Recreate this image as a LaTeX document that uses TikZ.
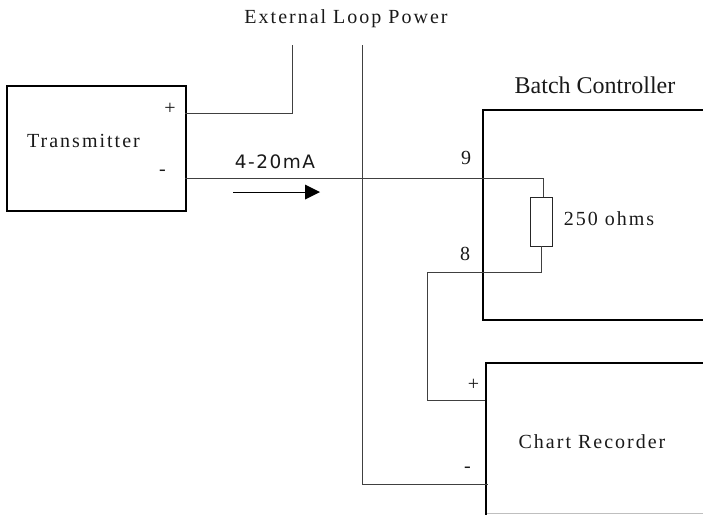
\documentclass[tikz,border=0pt]{standalone}
\usepackage{fontspec}
\setmainfont{Liberation Serif}
\newfontfamily\spaced[LetterSpace=10]{Liberation Serif}
\newfontfamily\sansspaced[LetterSpace=8]{DejaVu Sans}
\usetikzlibrary{calc}
\tikzset{
  block/.style={draw=black,line width=2pt,rectangle,inner sep=0pt,anchor=north west},
  wire/.style={draw=black!75,line width=1pt},
  resbox/.style={draw=black!85,fill=white,line width=1pt,rectangle,inner sep=0pt,minimum width=22pt,minimum height=49pt},
  lab/.style={inner sep=0pt,font=\spaced\fontsize{20}{22}\selectfont,text=black!90},
  plain/.style={inner sep=0pt,font=\fontsize{20}{22}\selectfont,text=black!90},
  flow/.style={line width=1pt,draw=black}
}
\begin{document}
\begin{tikzpicture}[x=1pt,y=-1pt]
\useasboundingbox (0,0) rectangle (703,514);
\clip (0,0) rectangle (703,514);
\node[block,minimum width=179pt,minimum height=125pt] (tx) at (6,85) {};
\node[block,minimum width=240pt,minimum height=210pt] (bc) at (482,109) {};
\node[block,minimum width=240pt,minimum height=170pt] (cr) at (485,362) {};
\draw[black!25,line width=.8pt] (487,513.5) -- (703,513.5);
\node[resbox] (r) at (541,221.5) {};
% free ends and terminals
\coordinate (txp) at (185,113);
\coordinate (txm) at (185,178);
\coordinate (ext1) at (292,45);
\coordinate (ext2) at (362,45);
\coordinate (crp) at (485,400);
\coordinate (crm) at (488,484);
\coordinate (af) at (233,192);
\coordinate (at) at (320,192);
\draw[wire] (txp) -- (292,113) -- (ext1);
\draw[wire] (txm) -- (543,178) -- (543,197);
\draw[wire] (541.5,246) -- (541.5,272) -- (427,272) -- (427,400) -- (crp);
\draw[wire] (ext2) -- (362,484) -- (crm);
\draw[flow] (af) -- (306,192);
\fill[black] (305,184.5) -- (at) -- (305,199.5) -- cycle;
\node[lab] (t0) at (346,18.5) {External Loop Power};
\node[inner sep=0pt,font=\fontsize{24}{26}\selectfont,text=black!90] (t1) at (595,85) {Batch Controller};
\node[lab] (t2) at (83.5,141) {Transmitter};
\node[lab] (t3) at (609,219) {250 ohms};
\node[lab] (t4) at (592,442) {Chart Recorder};
\node[inner sep=0pt,font=\sansspaced\fontsize{18.5}{20}\selectfont,text=black!90] (t5) at (275,161.5) {4-20mA};
\node[plain] (p1) at (170,109) {+};
\node[plain] (m1) at (162.5,173) {-};
\node[plain] (n9) at (466,158) {9};
\node[plain] (n8) at (465,254) {8};
\node[plain] (p2) at (473.5,385) {+};
\node[plain] (m2) at (467.5,470) {-};
\end{tikzpicture}
\end{document}
